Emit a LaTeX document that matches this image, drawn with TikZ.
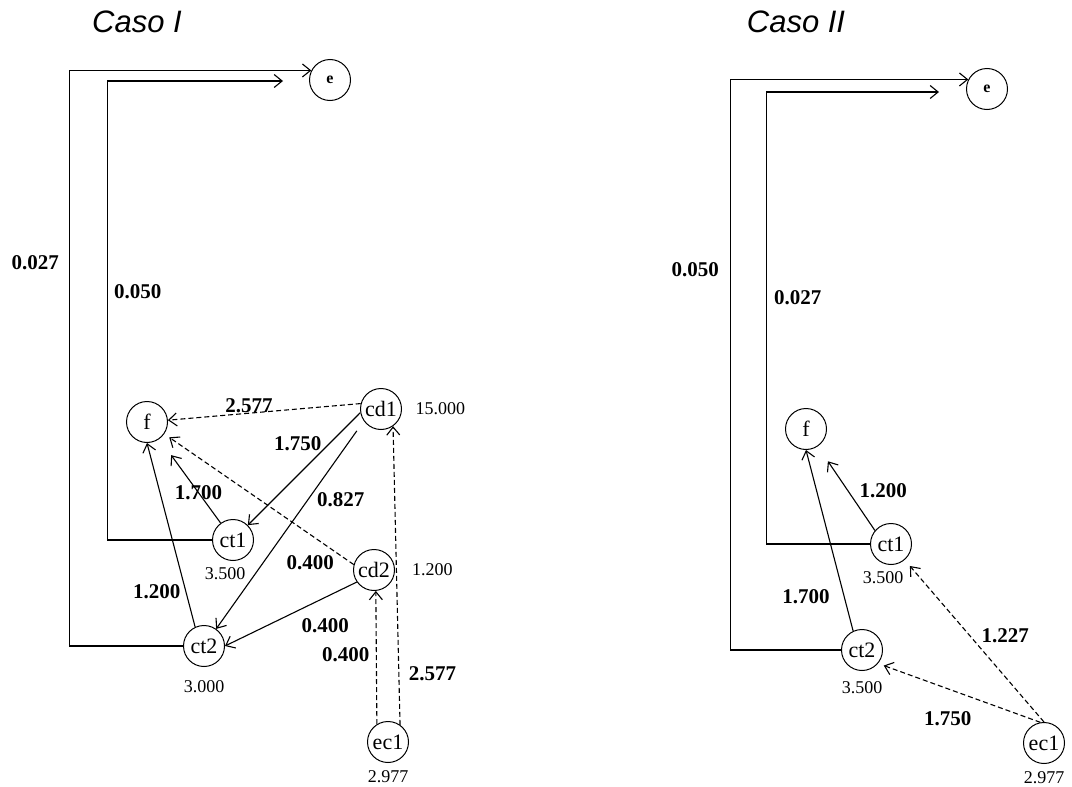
\documentclass[tikz,border=0pt]{standalone}
\usepackage{fontspec}
\setmainfont{Liberation Serif}
\newfontfamily\casofont{Liberation Sans}
\usetikzlibrary{arrows.meta, positioning}

\begin{document}
\begin{tikzpicture}[x=1pt, y=-1pt,
  state/.style={circle, draw, line width=1pt, minimum size=41pt, inner sep=0pt, font=\fontsize{22}{26}\selectfont},
  small state/.style={state, font=\fontsize{16}{19}\selectfont\bfseries},
  link/.style={line width=1.1pt, -{Straight Barb[length=8pt, width=13pt]}},
  dlink/.style={link, dash pattern=on 5pt off 3pt},
  wt/.style={font=\fontsize{21}{24}\selectfont\bfseries, inner sep=2pt},
  val/.style={font=\fontsize{18}{22}\selectfont, inner sep=2pt},
  caso/.style={font=\fontsize{31}{36}\selectfont\casofont\itshape}]
\useasboundingbox (0,0) rectangle (1072,787);

% Caso I
\begin{scope}
\node[caso] (I-titolo) at (137,22) {Caso I};
\node[small state] (I-e) at (330,80) {e};
\node[state] (I-f) at (147,422) {f};
\node[state] (I-cd1) at (381,409) {cd1};
\node[state] (I-ct1) at (233,540) {ct1};
\node[state] (I-cd2) at (374,570) {cd2};
\node[state] (I-ct2) at (204,646) {ct2};
\node[state] (I-ec1) at (388,742) {ec1};
\coordinate (I-e-in) at (283,81);
\node[val, right=11.5pt of I-cd1] (I-v-cd1) {15.000};
\node[val, below=4pt of I-ct1, xshift=-8pt] (I-v-ct1) {3.500};
\node[val, right=15pt of I-cd2] (I-v-cd2) {1.200};
\node[val, below=11pt of I-ct2] (I-v-ct2) {3.000};
\node[val, below=5pt of I-ec1] (I-v-ec1) {2.977};
\draw[link] (I-ct2.west) -- ++(-113.5,0) |- node[wt, pos=0.333, left=8pt] {0.027} (I-e.153);
\draw[link] (I-ct1.west) -- ++(-104.5,0) |- node[wt, pos=0.27, right=4pt] {0.050} (I-e-in);
\draw[dlink] (I-cd1.165) -- node[wt, pos=0.58, above=-2pt] {2.577} (I-f);
\draw[link] (I-cd1.190) -- node[wt, pos=0.28, left=5pt] {1.750} (I-ct1);
\draw[link, shorten <=12pt] (I-cd1.215) -- node[wt, pos=0.38, right=7pt] {0.827} (I-ct2);
\draw[link, shorten >=20pt] (I-ct1) -- node[wt, pos=0.36] {1.700} (I-f);
\draw[link] (I-ct2.115) -- node[wt, pos=0.19, left=3pt] {1.200} (I-f.south);
\draw[dlink, shorten >=6pt] (I-cd2.165) -- node[wt, pos=0.23, below=18pt] {0.400} (I-f);
\draw[link] (I-cd2.215) -- node[wt, pos=0.24, below=19pt] {0.400} (I-ct2.east);
\draw[dlink] (I-ec1.122) -- node[wt, pos=0.52, left=4.5pt] {0.400} (I-cd2.275);
\draw[dlink] (I-ec1.55) -- node[wt, pos=0.17, right=7.5pt] {2.577} (I-cd1.305);
\end{scope}

% Caso II
\begin{scope}[shift={(659,0)}]
\node[caso] (II-titolo) at (137,22) {Caso II};
\node[small state] (II-e) at (328,89) {e};
\node[state] (II-f) at (147,429) {f};
\node[state] (II-ct1) at (232,544) {ct1};
\node[state] (II-ct2) at (203,650) {ct2};
\node[state] (II-ec1) at (385,743) {ec1};
\coordinate (II-e-in) at (280,92);
\node[val, below=4pt of II-ct1, xshift=-8pt] (II-v-ct1) {3.500};
\node[val, below=8.5pt of II-ct2] (II-v-ct2) {3.500};
\node[val, below=5.5pt of II-ec1] (II-v-ec1) {2.977};
\draw[link] (II-ct2.west) -- ++(-110.5,0) |- node[wt, pos=0.333, left=9pt] {0.050} (II-e.153);
\draw[link] (II-ct1.west) -- ++(-103.5,0) |- node[wt, pos=0.272, right=5pt] {0.027} (II-e-in);
\draw[link, shorten >=18pt] (II-ct1.140) -- node[wt, pos=0.47, right=9pt] {1.200} (II-f);
\draw[link] (II-ct2.115) -- node[wt, pos=0.19, left=12pt] {1.700} (II-f.south);
\draw[dlink, shorten >=8pt] (II-ec1.north) -- node[wt, pos=0.53, right=9pt] {1.227} (II-ct1);
\draw[dlink, shorten >=6pt] (II-ec1.100) -- node[wt, pos=0.57, below=20pt] {1.750} (II-ct2.320);
\end{scope}
\end{tikzpicture}
\end{document}
